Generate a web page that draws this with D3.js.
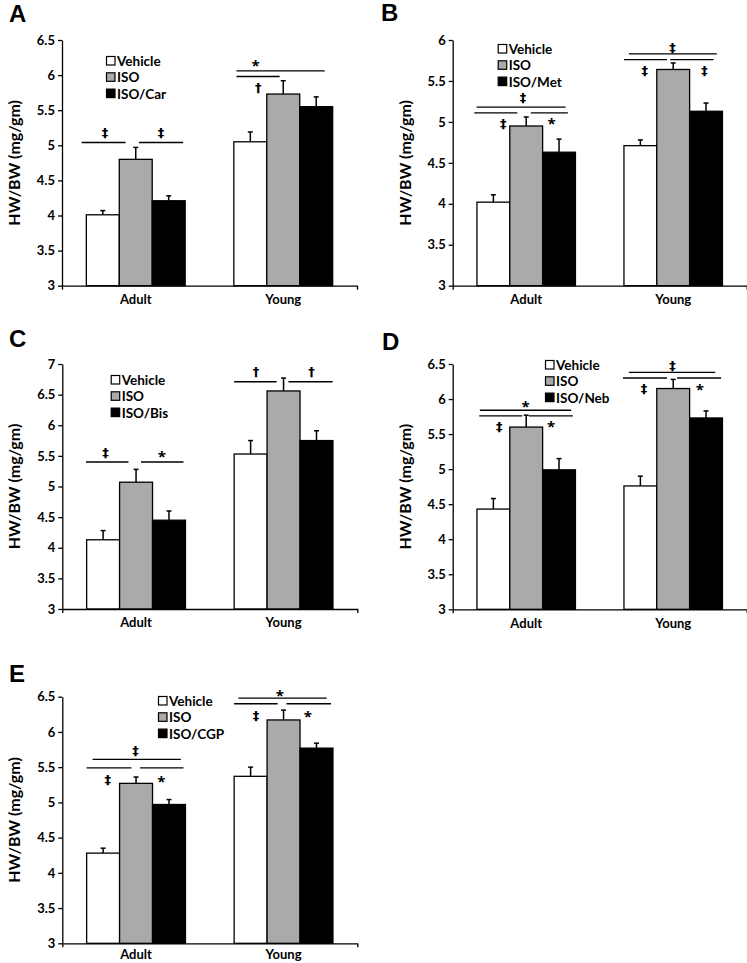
<!DOCTYPE html>
<html><head><meta charset="utf-8">
<script src="https://cdn.jsdelivr.net/npm/d3@7"></script>
<style>
body{margin:0;background:#fff}
svg{display:block}
text{font-family:Lato,"Open Sans",sans-serif;font-weight:700;fill:#000}
</style>
</head><body>
<svg id="c" width="747" height="963"></svg>
<script>
// ---------- DATA ----------
const categories = ["Adult", "Young"];

const seriesA = ["Vehicle", "ISO", "ISO/Car"];
const seriesB = ["Vehicle", "ISO", "ISO/Met"];
const seriesC = ["Vehicle", "ISO", "ISO/Bis"];
const seriesD = ["Vehicle", "ISO", "ISO/Neb"];
const seriesE = ["Vehicle", "ISO", "ISO/CGP"];

// mean HW/BW per category [Adult, Young], per series [Vehicle, ISO, treatment]
const meanA = [[4.01, 4.80, 4.21], [5.05, 5.73, 5.55]];
const semA  = [[0.06, 0.17, 0.07], [0.14, 0.19, 0.14]];
const meanB = [[4.02, 4.95, 4.63], [4.71, 5.64, 5.13]];
const semB  = [[0.09, 0.11, 0.16], [0.07, 0.08, 0.10]];
const meanC = [[4.13, 5.07, 4.45], [5.53, 6.56, 5.75]];
const semC  = [[0.15, 0.21, 0.15], [0.22, 0.21, 0.16]];
const meanD = [[4.43, 5.60, 4.99], [4.76, 6.15, 5.73]];
const semD  = [[0.15, 0.17, 0.16], [0.14, 0.13, 0.10]];
const meanE = [[4.28, 5.27, 4.97], [5.37, 6.17, 5.77]];
const semE  = [[0.07, 0.09, 0.07], [0.13, 0.14, 0.07]];

const ticksA = ["3", "3.5", "4", "4.5", "5", "5.5", "6", "6.5"];
const ticksB = ["3", "3.5", "4", "4.5", "5", "5.5", "6"];
const ticksC = ["3", "3.5", "4", "4.5", "5", "5.5", "6", "6.5", "7"];
const ticksD = ["3", "3.5", "4", "4.5", "5", "5.5", "6", "6.5"];
const ticksE = ["3", "3.5", "4", "4.5", "5", "5.5", "6", "6.5"];

// significance lines: [category index, from (bar units), to (bar units), value]
const linesA = [[0, -0.14, 1.19, 5.04], [0, 1.60, 2.94, 5.04], [1, 0.08, 2.76, 6.06], [1, 0.08, 1.39, 5.98]];
const marksA = [[0, 0.57, 5.19, "‡"], [0, 2.27, 5.19, "‡"], [1, 0.66, 6.18, "*"], [1, 0.74, 5.83, "†"]];
const linesB = [[0, -0.01, 2.70, 5.18], [0, -0.08, 1.23, 5.11], [0, 1.64, 2.77, 5.11],
                [1, 0.15, 2.83, 5.83], [1, 0.00, 1.31, 5.76], [1, 1.41, 2.73, 5.76]];
const marksB = [[0, 1.40, 5.30, "‡"], [0, 0.80, 4.99, "‡"], [0, 2.27, 5.02, "*"],
                [1, 1.48, 5.91, "‡"], [1, 0.63, 5.63, "‡"], [1, 2.45, 5.63, "‡"]];
const linesC = [[0, -0.02, 1.27, 5.40], [0, 1.65, 2.94, 5.40], [1, 0.00, 1.29, 6.71], [1, 1.65, 2.99, 6.71]];
const marksC = [[0, 0.57, 5.56, "‡"], [0, 2.28, 5.55, "*"], [1, 0.66, 6.88, "†"], [1, 2.35, 6.88, "†"]];
const linesD = [[0, 0.09, 2.87, 5.84], [0, 0.07, 1.38, 5.76], [0, 1.58, 2.92, 5.76],
                [1, 0.15, 2.78, 6.38], [1, -0.03, 1.31, 6.30], [1, 1.62, 2.96, 6.30]];
const marksD = [[0, 1.48, 5.95, "*"], [0, 0.68, 5.62, "‡"], [0, 2.26, 5.66, "*"],
                [1, 1.48, 6.48, "‡"], [1, 0.61, 6.16, "‡"], [1, 2.31, 6.18, "*"]];
const linesE = [[0, 0.18, 2.86, 5.61], [0, 0.00, 1.36, 5.49], [0, 1.62, 2.94, 5.49],
                [1, 0.13, 2.81, 6.48], [1, 0.00, 1.32, 6.40], [1, 1.59, 2.94, 6.40]];
const marksE = [[0, 1.48, 5.74, "‡"], [0, 0.64, 5.33, "‡"], [0, 2.27, 5.35, "*"],
                [1, 1.39, 6.57, "*"], [1, 0.66, 6.24, "‡"], [1, 2.24, 6.27, "*"]];

// ---------- LAYOUT / STYLE ----------
const fills = ["#ffffff", "#aaaaaa", "#000000"];
const panels = [
  {id: "A", series: seriesA, mean: meanA, sem: semA, ticks: ticksA, lines: linesA, marks: marksA,
   x: 62, top: 40, bottom: 285.7, w: 295, legend: [106, 61], letter: [9, 22], pad: 9},
  {id: "B", series: seriesB, mean: meanB, sem: semB, ticks: ticksB, lines: linesB, marks: marksB,
   x: 452.7, top: 40, bottom: 285.7, w: 294, legend: [497.7, 49], letter: [381, 21], pad: 9},
  {id: "C", series: seriesC, mean: meanC, sem: semC, ticks: ticksC, lines: linesC, marks: marksC,
   x: 62.3, top: 364, bottom: 609, w: 295, legend: [110.7, 380], letter: [9, 347], pad: 9},
  {id: "D", series: seriesD, mean: meanD, sem: semD, ticks: ticksD, lines: linesD, marks: marksD,
   x: 452.7, top: 364, bottom: 609.3, w: 294, legend: [545, 365], letter: [382, 350], pad: 9},
  {id: "E", series: seriesE, mean: meanE, sem: semE, ticks: ticksE, lines: linesE, marks: marksE,
   x: 62.3, top: 696.7, bottom: 943.3, w: 295, legend: [158, 701], letter: [9, 682], pad: 6}
];

const svg = d3.select("#c");
const FONT = "Lato,'Open Sans',sans-serif";

panels.forEach(p => {
  const g = svg.append("g");
  const tickVals = p.ticks.map(Number);
  const y = d3.scaleLinear().domain([tickVals[0], tickVals[tickVals.length - 1]]).range([p.bottom, p.top]);
  const x = d3.scaleBand().domain(categories).range([p.x, p.x + p.w]).paddingInner(0.33).paddingOuter(0.165);
  const xs = d3.scaleBand().domain(d3.range(p.series.length)).range([0, x.bandwidth()]);
  const unit = x.bandwidth() / p.series.length;
  const ux = (ci, u) => x(categories[ci]) + u * unit;

  // bars
  categories.forEach((cat, ci) => {
    const cg = g.append("g").attr("transform", `translate(${x(cat)},0)`);
    cg.selectAll("rect").data(p.mean[ci]).join("rect")
      .attr("x", (d, i) => xs(i)).attr("width", xs.bandwidth())
      .attr("y", d => y(d)).attr("height", d => y(tickVals[0]) - y(d))
      .attr("fill", (d, i) => fills[i]).attr("stroke", "#000").attr("stroke-width", 1.3);
    // error bars
    p.mean[ci].forEach((m, i) => {
      const cx = xs(i) + xs.bandwidth() / 2;
      const top = y(m + p.sem[ci][i]);
      cg.append("line").attr("x1", cx).attr("x2", cx).attr("y1", y(m)).attr("y2", top)
        .attr("stroke", "#000").attr("stroke-width", 1.5);
      cg.append("line").attr("x1", cx - 2.5).attr("x2", cx + 2.5).attr("y1", top).attr("y2", top)
        .attr("stroke", "#000").attr("stroke-width", 1.5);
    });
  });

  // y axis
  const yAxis = d3.axisLeft(y).tickValues(tickVals).tickFormat((d, i) => p.ticks[i])
    .tickSize(4).tickSizeOuter(0).tickPadding(3);
  const ya = g.append("g").attr("transform", `translate(${p.x},0)`).call(yAxis);
  ya.selectAll("path,line").attr("stroke", "#000").attr("stroke-width", 1.3);
  ya.selectAll("text").style("font-size", "13px").style("font-family", FONT)
    .style("font-weight", 700).attr("fill", "#000");

  // x axis
  const xAxis = d3.axisBottom(x).tickSize(0).tickSizeOuter(4).tickPadding(p.pad);
  const xa = g.append("g").attr("transform", `translate(0,${p.bottom})`).call(xAxis);
  xa.select(".domain").attr("stroke", "#000").attr("stroke-width", 1.3);
  xa.selectAll("text").style("font-size", "13px").style("font-family", FONT)
    .style("font-weight", 700).attr("fill", "#000");

  // y label
  g.append("text")
    .attr("transform", `translate(${p.x - 42},${(p.top + p.bottom) / 2}) rotate(-90)`)
    .attr("text-anchor", "middle").style("font-size", "16px")
    .text("HW/BW (mg/gm)");

  // significance lines
  g.selectAll("line.sig").data(p.lines).join("line").attr("class", "sig")
    .attr("x1", d => ux(d[0], d[1])).attr("x2", d => ux(d[0], d[2]))
    .attr("y1", d => y(d[3])).attr("y2", d => y(d[3]))
    .attr("stroke", "#000").attr("stroke-width", 1.3);
  g.selectAll("text.mark").data(p.marks).join("text").attr("class", "mark")
    .attr("x", d => ux(d[0], d[1]))
    .attr("y", d => y(d[2]) + (d[3] === "*" ? 9 : 5))
    .attr("text-anchor", "middle")
    .style("font-family", d => d[3] === "*" ? "'Open Sans',sans-serif" : "'DejaVu Sans',sans-serif")
    .style("font-size", d => d[3] === "*" ? "15px" : "13px")
    .style("font-weight", 700)
    .text(d => d[3]);

  // legend
  const lg = g.append("g").attr("transform", `translate(${p.legend[0]},${p.legend[1]})`);
  p.series.forEach((s, i) => {
    lg.append("rect").attr("x", 0.5).attr("y", i * 16.3 - 4.5).attr("width", 8.5).attr("height", 8.5)
      .attr("fill", fills[i]).attr("stroke", "#000").attr("stroke-width", 1.2);
    lg.append("text").attr("x", 11).attr("y", i * 16.3 + 5).style("font-size", "13.5px").text(s);
  });

  // panel letter
  g.append("text").attr("x", p.letter[0]).attr("y", p.letter[1])
    .style("font-family", "'Liberation Sans',Arial,sans-serif").style("font-size", "24px")
    .text(p.id);
});
</script>
</body></html>
